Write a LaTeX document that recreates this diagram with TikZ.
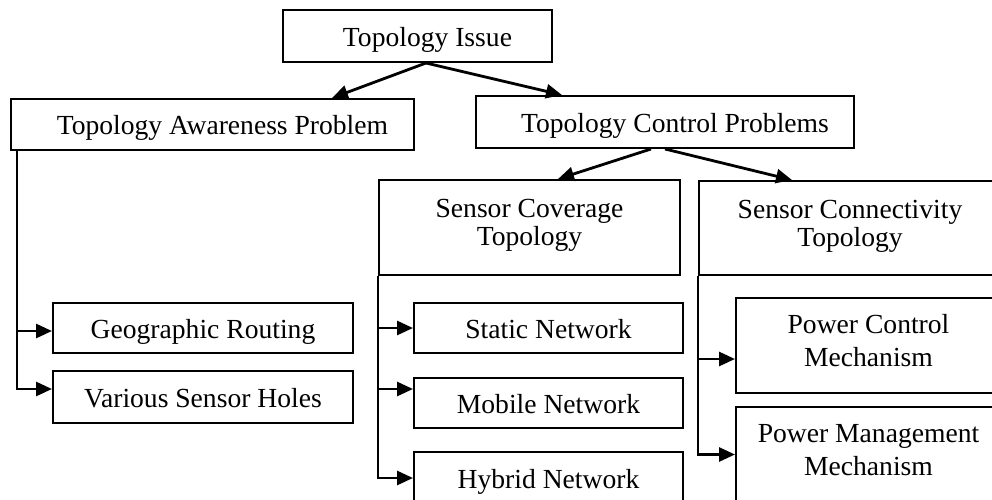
\documentclass[tikz,border=0pt]{standalone}
\usepackage{fontspec}
\setmainfont{Liberation Serif}
\usetikzlibrary{arrows.meta}
\begin{document}
\begin{tikzpicture}[x=0.5pt,y=-0.5pt,
  txt/.style={font=\fontsize{13.8}{16.5}\selectfont,align=center},
  box/.style={txt,draw,line width=1pt,anchor=north west,inner sep=0pt},
  one/.style={text height=12pt,text depth=2pt},
  sz/.style 2 args={minimum width=#1*0.5pt,minimum height=#2*0.5pt},
  arr/.style={line width=1.4pt,-{Triangle[length=8pt,width=7pt]}}]
\useasboundingbox (0,0) rectangle (992,499);

% boxes
\node[box,one,sz={269}{52}] (ti) at (282,9) {\hspace*{10pt}Topology Issue};
\node[box,one,sz={403}{51}] (tap) at (10,98) {\hspace*{10pt}Topology Awareness Problem};
\node[box,one,sz={378}{52}] (tcp) at (475,95) {\hspace*{10pt}Topology Control Problems};
\node[box,sz={301}{95}] (sct) at (378,179) {};
\node[txt] (sctt) at ([yshift=1pt]sct.center) {Sensor Coverage\\[-2.5pt]Topology};
\node[box,sz={302}{94}] (sct2) at (698,180) {};
\node[txt] (sct2t) at ([yshift=1pt]sct2.center) {Sensor Connectivity\\[-2.5pt]Topology};
\node[box,one,sz={300}{50}] (gr) at (52,302) {Geographic Routing};
\node[box,one,sz={300}{52}] (vsh) at (52,370) {Various Sensor Holes};
\node[box,one,sz={269}{50}] (sn) at (413,302) {Static Network};
\node[box,one,sz={269}{50}] (mn) at (413,377) {Mobile Network};
\node[box,one,sz={269}{52}] (hn) at (413,451) {Hybrid Network};
\node[box,sz={265}{95}] (pcm) at (735,297) {};
\node[txt] (pcmt) at ([yshift=2.5pt]pcm.center) {Power Control\\Mechanism};
\node[box,sz={265}{95}] (pmm) at (735,406) {};
\node[txt] (pmmt) at ([yshift=2pt]pmm.center) {Power Management\\Mechanism};

% top-level connectors
\draw[arr] ([xshift=4.25pt]ti.south) -- ([xshift=-41.5pt]tap.north east);
\draw[arr] ([xshift=4.25pt]ti.south) -- ([xshift=43.5pt]tcp.north west);
\draw[arr] ([xshift=-7pt]tcp.south) -- ([xshift=90pt]sct.north west);
\draw[arr] (tcp.south) -- ([xshift=47pt]sct2.north west);

% left branch
\coordinate (lt) at ([xshift=3.5pt]tap.south west);
\coordinate (grp) at ([yshift=-1.5pt]gr.west);
\draw[arr] (lt) |- ([yshift=4pt]vsh.west);
\draw[arr] (lt |- grp) -- (grp);

% middle branch
\coordinate (mt) at (sct.south west);
\coordinate (mnp) at ([yshift=7pt]mn.west);
\draw[arr] (mt) |- (hn.west);
\draw[arr] (mt |- sn.west) -- (sn.west);
\draw[arr] (mt |- mnp) -- (mnp);

% right branch
\coordinate (rt) at (sct2.south west);
\coordinate (pcp) at ([yshift=-6.75pt]pcm.west);
\draw[arr] (rt) |- (pmm.west);
\draw[arr] (rt |- pcp) -- (pcp);
\end{tikzpicture}
\end{document}
